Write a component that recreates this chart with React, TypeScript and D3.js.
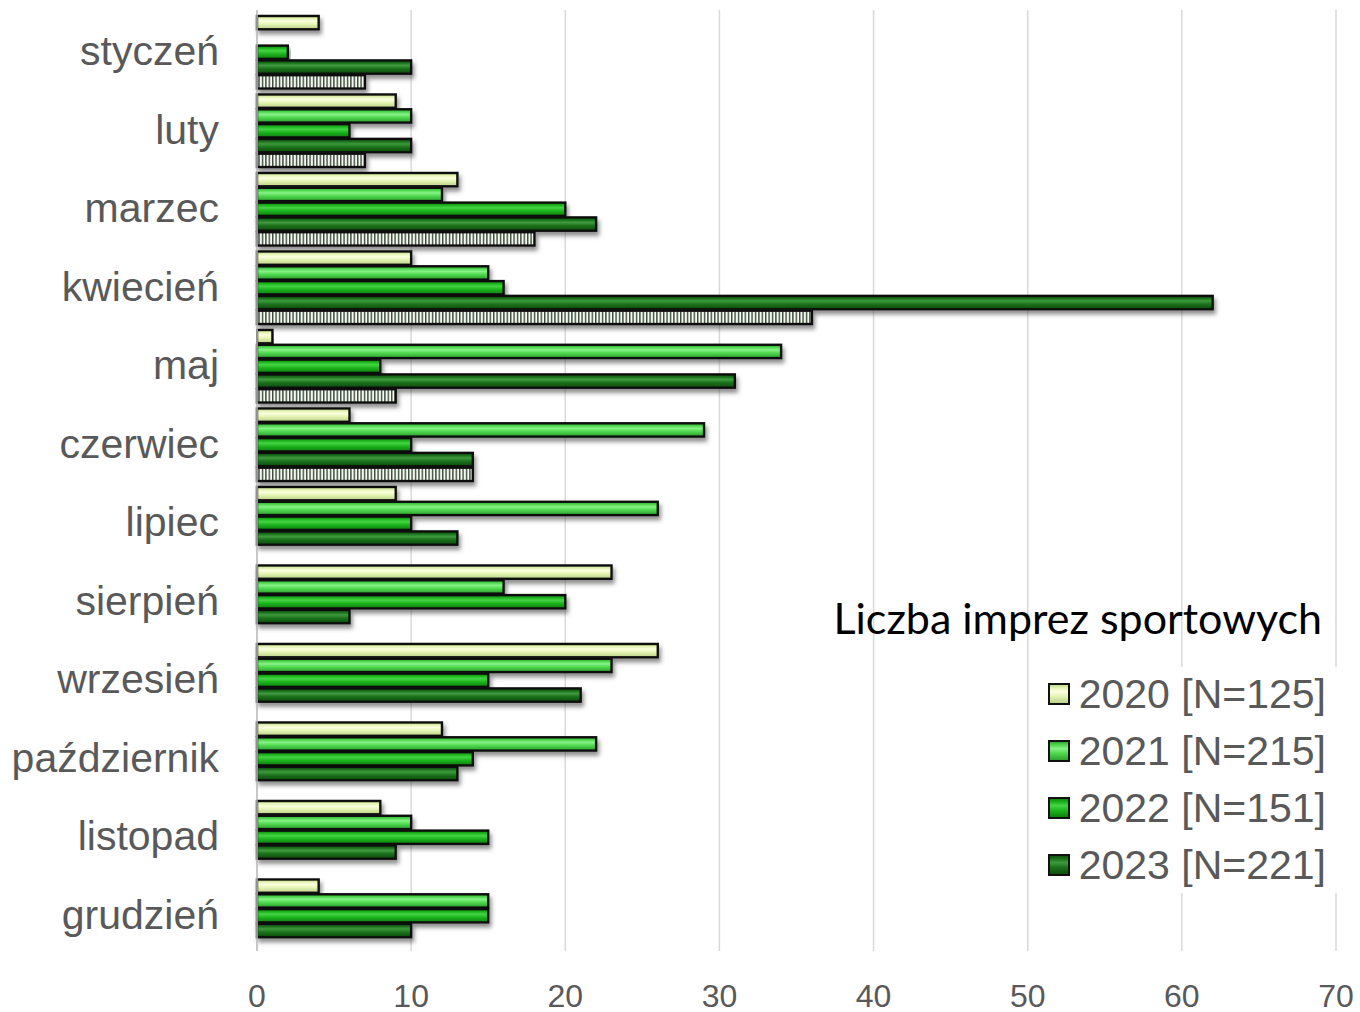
import * as d3 from "d3";

// months on the vertical axis
const months = [
  "styczeń",
  "luty",
  "marzec",
  "kwiecień",
  "maj",
  "czerwiec",
  "lipiec",
  "sierpień",
  "wrzesień",
  "październik",
  "listopad",
  "grudzień",
];

const seriesKeys = ["2020", "2021", "2022", "2023", "2024"];

const v2020 = [4, 9, 13, 10, 1, 6, 9, 23, 26, 12, 8, 4];
const v2021 = [0, 10, 12, 15, 34, 29, 26, 16, 23, 22, 10, 15];
const v2022 = [2, 6, 20, 16, 8, 10, 10, 20, 15, 14, 15, 15];
const v2023 = [10, 10, 22, 62, 31, 14, 13, 6, 21, 13, 9, 10];
// hatched series (not in the legend), only first half of the year
const v2024: (number | null)[] = [7, 7, 18, 36, 9, 14, null, null, null, null, null, null];

const legendLabels = ["2020 [N=125]", "2021 [N=215]", "2022 [N=151]", "2023 [N=221]"];
const xTicks = [0, 10, 20, 30, 40, 50, 60, 70];
const chartTitle = "Liczba imprez sportowych";

const W = 1360;
const H = 1012;
const plot = { left: 257, right: 1336, top: 13, bottom: 955 };

// colours: [dark edge, highlight, base]
const palette: Record<string, [string, string, string]> = {
  "2020": ["#b9cf86", "#fbffe0", "#e4f4b2"],
  "2021": ["#2a9a2a", "#86f286", "#4fd84f"],
  "2022": ["#0b7a0b", "#44d444", "#1db51d"],
  "2023": ["#0a4a0a", "#3f9a3f", "#1c721c"],
};

const labelGray = "#595959";

export default function App() {
  const x = d3.scaleLinear().domain([0, 70]).range([plot.left, plot.right]);
  const y0 = d3.scaleBand<string>().domain(months).range([plot.top, plot.bottom]).padding(0);
  const y1 = d3
    .scaleBand<string>()
    .domain(seriesKeys)
    .range([0, y0.bandwidth()])
    .paddingInner(0.1)
    .paddingOuter(0.2);

  const allSeries: Record<string, (number | null)[]> = {
    "2020": v2020,
    "2021": v2021,
    "2022": v2022,
    "2023": v2023,
    "2024": v2024,
  };

  const bars: { key: string; month: string; value: number }[] = [];
  months.forEach((m, i) => {
    seriesKeys.forEach((k) => {
      const v = allSeries[k][i];
      if (v != null && v > 0) bars.push({ key: k, month: m, value: v });
    });
  });

  const fillFor = (k: string) => (k === "2024" ? "url(#hatch)" : `url(#grad${k})`);

  return (
    <svg width={W} height={H} style={{ display: "block", position: "absolute", left: 0, top: 0 }}>
      <defs>
        {Object.keys(palette).map((k) => {
          const [dark, light, base] = palette[k];
          return (
            <linearGradient key={k} id={`grad${k}`} x1="0" y1="0" x2="0" y2="1">
              <stop offset="0" stopColor={dark} />
              <stop offset="0.2" stopColor={base} />
              <stop offset="0.38" stopColor={light} />
              <stop offset="0.62" stopColor={base} />
              <stop offset="1" stopColor={dark} />
            </linearGradient>
          );
        })}
        <pattern id="hatch" patternUnits="userSpaceOnUse" width="3.4" height="20">
          <rect width="3.4" height="20" fill="#f6faf2" />
          <rect width="1.4" height="20" fill="#3a4a3a" />
        </pattern>
        <filter id="shadow" x="-5%" y="-50%" width="115%" height="250%">
          <feDropShadow dx="2" dy="4" stdDeviation="2.2" floodColor="#444" floodOpacity="0.6" />
        </filter>
      </defs>

      {/* grid lines */}
      {xTicks.map((t) => (
        <line
          key={t}
          x1={x(t)}
          x2={x(t)}
          y1={plot.top - 3}
          y2={plot.bottom - 4}
          stroke="#d9d9d9"
          strokeWidth={1.5}
        />
      ))}

      {/* legend box hides grid */}
      <rect x={1040} y={667} width={305} height={226} fill="#fff" />

      {/* bars */}
      {bars.map((b) => {
        const by = (y0(b.month) ?? 0) + (y1(b.key) ?? 0);
        return (
          <rect
            key={b.key + b.month}
            x={x(0)}
            y={by}
            width={x(b.value) - x(0)}
            height={y1.bandwidth()}
            fill={fillFor(b.key)}
            stroke="#111"
            strokeWidth={2.4}
            filter="url(#shadow)"
          />
        );
      })}

      {/* vertical axis */}
      <line x1={x(0)} x2={x(0)} y1={plot.top - 3} y2={plot.bottom - 4} stroke="#bfbfbf" strokeWidth={1.5} />

      {/* month labels */}
      {months.map((m) => (
        <text
          key={m}
          x={219}
          y={(y0(m) ?? 0) + y0.bandwidth() / 2 + 13}
          textAnchor="end"
          fontFamily="'Liberation Sans', Arial, sans-serif"
          fontSize={41}
          fill={labelGray}
        >
          {m}
        </text>
      ))}

      {/* tick labels */}
      {xTicks.map((t) => (
        <text
          key={t}
          x={x(t)}
          y={1007}
          textAnchor="middle"
          fontFamily="'Liberation Sans', Arial, sans-serif"
          fontSize={32}
          fill={labelGray}
        >
          {t}
        </text>
      ))}

      {/* title */}
      <text
        x={1322}
        y={634}
        textAnchor="end"
        fontFamily="Lato, 'Open Sans', sans-serif"
        fontSize={43}
        fill="#000"
      >
        {chartTitle}
      </text>

      {/* legend */}
      {legendLabels.map((l, i) => {
        const cy = 694 + i * 57;
        const k = seriesKeys[i];
        return (
          <g key={l}>
            <rect
              x={1049}
              y={cy - 10}
              width={20}
              height={20}
              fill={`url(#grad${k})`}
              stroke="#111"
              strokeWidth={2}
            />
            <text
              x={1326}
              y={cy + 14}
              textAnchor="end"
              fontFamily="'Liberation Sans', Arial, sans-serif"
              fontSize={41}
              fill={labelGray}
            >
              {l}
            </text>
          </g>
        );
      })}
    </svg>
  );
}
